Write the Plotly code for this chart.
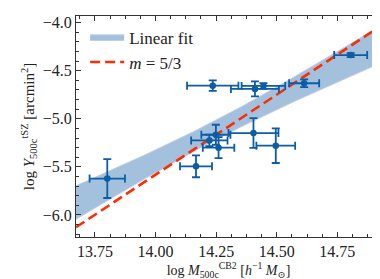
import numpy as np
import plotly.graph_objects as go

# ---- data ----
log_m = [13.801, 14.236, 14.410, 14.445, 14.613, 14.805, 14.167, 14.222, 14.249, 14.260, 14.404, 14.496]
log_y = [-5.622, -4.655, -4.689, -4.658, -4.630, -4.337, -5.494, -5.225, -5.166, -5.300, -5.148, -5.280]
m_err = [0.073, 0.106, 0.099, 0.090, 0.062, 0.068, 0.066, 0.075, 0.060, 0.065, 0.103, 0.080]
y_err = [0.202, 0.055, 0.078, 0.030, 0.040, 0.020, 0.114, 0.060, 0.104, 0.110, 0.155, 0.180]

# linear fit parameters (pivoted) and uncertainties
fit_pivot = 14.25
fit_intercept = -5.114
fit_slope = 1.31
fit_sig_int = 0.10
fit_sig_slope = 0.245

# fixed self-similar slope line
fixed_slope = 5.0 / 3.0
fixed_intercept_at_14 = -5.582

x_range = [13.672, 14.93]
y_range = [-6.23, -3.93]

blue = "#0C5DA5"
red = "#FF2C00"

xs = np.linspace(x_range[0], x_range[1], 200)
center = fit_intercept + fit_slope * (xs - fit_pivot)
sig = np.sqrt(fit_sig_int**2 + (fit_sig_slope * (xs - fit_pivot))**2)
lower = center - sig
upper = center + sig
fixed = fixed_intercept_at_14 + fixed_slope * (xs - 14.0)

fig = go.Figure()
fig.add_trace(go.Scatter(x=xs, y=lower, mode="lines",
                         line=dict(color="rgba(190,205,232,1)", width=1),
                         showlegend=False, hoverinfo="skip"))
fig.add_trace(go.Scatter(x=xs, y=upper, mode="lines", fill="tonexty",
                         fillcolor="rgba(12,93,165,0.38)",
                         line=dict(color="rgba(190,205,232,1)", width=1),
                         name="Linear fit", legendrank=1))
fig.add_trace(go.Scatter(x=xs, y=fixed, mode="lines",
                         line=dict(color=red, width=2.6, dash="10px,5px"),
                         name="<i>m</i> = 5/3", legendrank=2))
fig.add_trace(go.Scatter(x=log_m, y=log_y, mode="markers",
                         marker=dict(color=blue, size=6.5),
                         error_x=dict(type="data", array=m_err, color=blue, thickness=1.8, width=4),
                         error_y=dict(type="data", array=y_err, color=blue, thickness=1.8, width=4),
                         showlegend=False))

font = "Liberation Serif, DejaVu Serif, serif"
axis_common = dict(showline=True, linecolor="#333", linewidth=1, mirror="allticks",
                   ticks="inside", ticklen=5, tickwidth=1, tickcolor="#333",
                   showgrid=False, zeroline=False,
                   tickfont=dict(family=font, size=16, color="#222"))
fig.update_xaxes(range=x_range, tick0=13.75, dtick=0.25, tickformat=".2f",
                 minor=dict(dtick=0.0625, ticks="inside", ticklen=3, tickcolor="#333"),
                 title=dict(text="log <i>M</i><sub>500c</sub><sup>CB2</sup> [<i>h</i><sup>−1</sup> <i>M</i><sub>⊙</sub>]",
                            font=dict(family=font, size=14, color="#222"), standoff=0),
                 **axis_common)
fig.update_yaxes(range=y_range, tick0=-6.0, dtick=0.5, tickformat=".1f",
                 minor=dict(dtick=0.1, ticks="inside", ticklen=3, tickcolor="#333"),
                 title=dict(text="log <i>Y</i><sub>500c</sub><sup>tSZ</sup> [arcmin<sup>2</sup>]",
                            font=dict(family=font, size=15, color="#222"), standoff=4),
                 **axis_common)
fig.update_layout(width=380, height=279,
                  margin=dict(l=68, r=6, t=6, b=50),
                  paper_bgcolor="white", plot_bgcolor="white",
                  font=dict(family=font, size=16, color="#222"),
                  legend=dict(x=0.03, y=0.985, xanchor="left", yanchor="top",
                              traceorder="normal",
                              bgcolor="rgba(0,0,0,0)", font=dict(family=font, size=17),
                              itemwidth=34, tracegroupgap=0))
fig.write_html("out.html")
